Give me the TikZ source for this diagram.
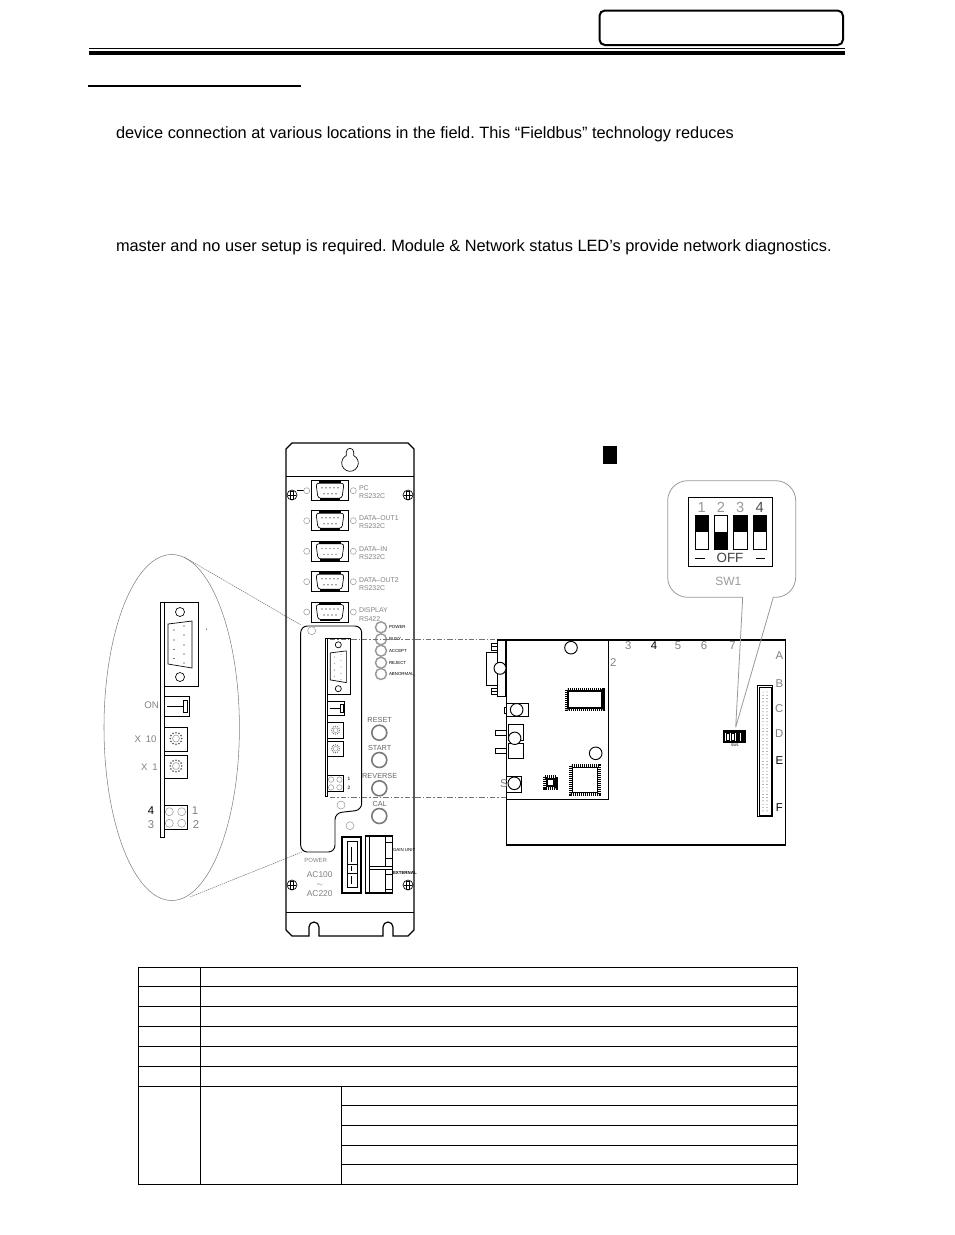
\documentclass[tikz,border=0pt]{standalone}
\usepackage{fontspec}
\setmainfont{Liberation Sans}
\usepackage{tikz}
\usetikzlibrary{positioning}
\usetikzlibrary{calc}
\definecolor{faint}{gray}{0.5}
\definecolor{ringgray}{gray}{0.6}
\frenchspacing

% one copy of the side panel, used for the enlarged view and on the controller
\newcommand{\sidepanel}{
    \draw[heavy, fill=white] (160.3,602) rectangle (164,837);
    \draw[heavy] (164,602) rectangle (198,686);
    \draw[thin line] (180,612) circle (4.5) (180,677) circle (4.5);
    \draw[thin line] (168,624) -- (192,621) -- (192,668) -- (168,664) -- cycle;
    \foreach \yy in {630,640,649.5,658.5} \fill (174,\yy) circle (.6);
    \foreach \yy in {626,635,645,654,663} \fill (184,\yy) circle (.6);
    \draw[heavy] (164,696) rectangle (189,716);
    \draw[heavy] (183,700) rectangle (187,712);
    \draw[thin line] (167,706) -- (183,706);
    \draw[heavy] (164,727) rectangle (187,751);
    \draw[heavy] (164,755) rectangle (187,778);
    \foreach \cy in {738.5,766} {
        \draw[ringline] (176,\cy) circle (3.5);
        \foreach \ang in {0,30,...,330} \fill[black!65] ($(176,\cy)+(\ang:5.8)$) circle (.9);
    }
    \draw[heavy] (164,805) rectangle (187,829);
    \foreach \cx in {169.3,181.7} \foreach \cy in {811.7,823.3}
        \draw[ringline] (\cx,\cy) circle (4);
}
\newcommand{\rsport}[1]{
    \begin{scope}[shift={(330,#1)}]
        \draw[heavy] (-18.3,-10) rectangle (18.3,10);
        \draw[thin line, rounded corners=2pt] (-14,-7.5) -- (14,-7.5) -- (12,7.5) -- (-12,7.5) -- cycle;
        \draw[line width=1.4pt] (-11,-8.5) -- (11,-8.5) (-10,8.5) -- (10,8.5);
        \foreach \xx in {-8,-4,...,8} \fill[faint] (\xx,-3) circle (.8);
        \foreach \xx in {-6,-2,...,6} \fill[faint] (\xx,3) circle (.8);
        \draw[ringline] (-23.3,0) circle (3) (23.3,0) circle (3);
    \end{scope}
}
\newcommand{\panelscrew}[1]{
    \begin{scope}[shift={#1}]
        \draw[thin line] (0,0) circle (5);
        \draw[thin line, fill=white] (-1.5,-4) rectangle (1.5,4);
        \draw[thin line] (-4,0) -- (4,0);
    \end{scope}
}

\begin{document}
\begin{tikzpicture}
[   x=.75pt,
    y=-.75pt,
    inner sep=0pt,
    outer sep=0pt,
    heavy/.style={line width=.7pt},
    thin line/.style={line width=.5pt},
    ringline/.style={line width=.4pt, draw=ringgray},
    panelline/.style={line width=.9pt},
    tableline/.style={line width=.5pt},
    dashline/.style={line width=.4pt, draw=black!55, dash pattern=on 4pt off 1.5pt on 1pt off 1.5pt},
    bodytext/.style={font=\fontsize{12.26}{14}\selectfont, anchor=base west},
    smalltext/.style={font=\fontsize{5.2}{6}\selectfont, text=faint},
    acfont/.style={font=\fontsize{6.3}{7}\selectfont, text=faint},
    insettext/.style={font=\fontsize{7.2}{9}\selectfont, text=faint},
    buttontext/.style={font=\fontsize{5.5}{6}\selectfont, text=black!60},
    tinytext/.style={font=\fontsize{3.3}{4}\selectfont, anchor=west},
    numtext/.style={font=\fontsize{8.5}{10}\selectfont, text=faint},
    blacknum/.style={font=\fontsize{8.5}{10}\selectfont},
    digittext/.style={font=\fontsize{11}{12}\selectfont, text=ringgray},
    pinrow/.style={line width=2.4pt, dash pattern=on 1.1pt off .4pt}
]
\useasboundingbox (0,0) rectangle (954,1235);

% page header
\draw[line width=1.5pt, rounded corners=4pt] (599.5,10.5) rectangle (843,45);
\draw[line width=.9pt] (89,48.5) -- (845,48.5);
\draw[line width=2.9pt] (89,53) -- (845,53);
\draw[line width=1.4pt] (88,86) -- (301,86);
\node[bodytext] (lineone) at (116,138) {device connection at various locations in the field. This “Fieldbus” technology reduces};
\node[bodytext] (linetwo) at (116,251) {master and no user setup is required. Module \& Network status LED’s provide network diagnostics.};

% enlarged view
\draw[draw=faint, line width=.4pt] (171.7,727.5) ellipse (67.7 and 173);
\sidepanel
\fill (206.5,629) circle (.5);
\node[insettext] (onlabel) at (151.5,705) {ON};
\node[insettext] (xten) at (145.5,739) {X\,\,\,10};
\node[insettext] (xone) at (149.5,767) {X\,\,\,1};
\node[blacknum] (ledfour) at (151,811) {4};
\node[numtext] (ledthree) at (151,825) {3};
\node[numtext] (ledone) at (195,811) {1};
\node[numtext] (ledtwo) at (196,825) {2};
\draw[dashline, dash pattern=on 1pt off .6pt] (184,557) -- (301,625);
\draw[dashline, dash pattern=on 1pt off .6pt] (190,897) -- (302,852);

% controller front panel
\draw[panelline] (292,443) -- (408,443) -- (414,449) -- (414,930) -- (408,936) -- (393,936) -- (393,927)
    arc (0:-180:5) -- (383,936) -- (319,936) -- (319,927) arc (0:-180:5) -- (309,936) -- (292,936)
    -- (286,930) -- (286,449) -- cycle;
\draw[heavy] (286,476) -- (414,476) (286,912) -- (414,912);
\draw[thin line] (346.3,452) arc (180:360:3.7) -- (353.77,455.6) arc (-63:243:8.3) -- cycle;
\panelscrew{(292,495)}
\panelscrew{(408,495)}
\panelscrew{(292,885)}
\panelscrew{(408,885)}
\draw[thin line] (297,490) -- (304,490);
\rsport{490.7}
\rsport{520.7}
\rsport{551.3}
\rsport{581.7}
\rsport{612}
\node[smalltext, anchor=west] (pclabel) at (359,488) {PC};
\node[smalltext, anchor=west] (pcbus) at (359,496) {RS232C};
\node[smalltext, anchor=west] (outonelabel) at (359,518) {DATA--OUT1};
\node[smalltext, anchor=west] (outonebus) at (359,526) {RS232C};
\node[smalltext, anchor=west] (inlabel) at (359,549) {DATA--IN};
\node[smalltext, anchor=west] (inbus) at (359,557) {RS232C};
\node[smalltext, anchor=west] (outtwolabel) at (359,580) {DATA--OUT2};
\node[smalltext, anchor=west] (outtwobus) at (359,588) {RS232C};
\node[smalltext, anchor=west] (displabel) at (359,610) {DISPLAY};
\node[smalltext, anchor=west] (dispbus) at (359,619) {RS422};

% cut-out for the option card
\draw[heavy, rounded corners=5pt] (300.7,852) -- (300.7,626) -- (361.7,626) -- (361.7,810) -- (335,813) -- (335,852) -- cycle;
\draw[ringline] (311.7,630.7) circle (4) (341,805) circle (4) (350,825.7) circle (4);
\begin{scope}[shift={(216.8,231.7)},scale=.675]
    \sidepanel
\end{scope}
\node[font=\fontsize{3.6}{4}\selectfont] (smallone) at (349,779) {1};
\node[font=\fontsize{3.6}{4}\selectfont] (smalltwo) at (349,788) {2};

% status lamps and buttons
\foreach \cy/\txt [count=\i] in {627.3/POWER,639.3/BUSY,650.7/ACCEPT,662.7/REJECT,674/ABNORMAL} {
    \draw[draw=ringgray, line width=1.1pt] (381,\cy) circle (5.5);
    \node[tinytext] (lamp\i) at (389,\cy) {\txt};
}
\foreach \cy/\ty/\txt [count=\i] in {732.7/720/RESET,760/748.3/START,788.3/776/REVERSE,816/804/CAL} {
    \draw[draw=ringgray!80!black, line width=1.2pt] (379.3,\cy) circle (7.5);
    \node[buttontext] (button\i) at (379.7,\ty) {\txt};
}
\node[smalltext, font=\fontsize{4.5}{5}\selectfont] (powerlabel) at (315.7,860) {POWER};
\node[acfont] (actop) at (319.7,875) {AC100};
\node[acfont, font=\fontsize{5}{5}\selectfont] (actilde) at (319.7,885) {$\sim$};
\node[acfont] (acbot) at (319.7,894) {AC220};

% power and output connectors
\draw[line width=1.4pt] (341.7,836.7) rectangle (361,892.7);
\draw[heavy] (347.5,841) rectangle (357,887);
\draw[heavy] (347.5,864) -- (357,864) (347.5,873) -- (357,873);
\draw[line width=1.1pt] (351.5,847) -- (351.5,862) (351.5,866) -- (351.5,871) (351.5,876) -- (351.5,884);
\draw[line width=1.2pt] (365.3,836) rectangle (392.3,893);
\draw[heavy] (369.5,836) -- (369.5,893) (369.5,866) -- (392.3,866) (369.5,869) -- (392.3,869);
\draw[heavy] (385,836) -- (385,866) (385,869) -- (385,893);
\draw[heavy] (385,842) -- (392.3,842) (385,858) -- (392.3,858) (385,874) -- (392.3,874) (385,889) -- (392.3,889);
\node[tinytext, font=\fontsize{3.3}{4}\selectfont] (gainlabel) at (393,850) {GAIN UNIT};
\node[tinytext, font=\fontsize{3.3}{4}\selectfont\bfseries] (extlabel) at (393,873) {EXTERNAL};

% dashed guide lines to the card
\draw[dashline] (330,639) -- (497,639);
\draw[dashline] (330,797) -- (506,797);

% main board
\draw[panelline] (506.7,640) rectangle (785.7,845);
\draw[heavy] (608.3,640) -- (608.3,799.3) -- (506.7,799.3);
\foreach \cx/\cy in {571/647.7,595.7/753.3} \draw[heavy] (\cx,\cy) circle (6.3);
% left edge parts
\draw[line width=1.1pt] (497.3,640) rectangle (506,696.7);
\draw[heavy] (486,652.7) rectangle (497.3,685);
\draw[heavy] (491,643.3) rectangle (497.3,650) (491,688.3) rectangle (497.3,694);
\draw[heavy] (491,646.5) -- (497.3,646.5) (491,691) -- (497.3,691);
\draw[heavy, fill=white] (500,668.3) circle (6);
\draw[heavy] (506.7,703.3) rectangle (528.3,716.7);
\draw[heavy] (504.5,707) rectangle (506.7,713);
\draw[heavy, fill=white] (516.7,709.8) circle (6.3);
\draw[heavy] (508.3,724.3) rectangle (523.3,740.7) (508.3,743.3) rectangle (523.3,758.3);
\draw[heavy] (495,730) rectangle (506.7,735) (495,748.3) rectangle (506.7,753.3);
\draw[heavy, fill=white] (514.7,738.3) circle (6.2);
\draw[heavy] (506.7,776) rectangle (521.7,792.7);
\draw[heavy, fill=white] (514.3,783.3) circle (6.3);
\node[numtext] (eightlabel) at (504,784) {S};
% chips
\draw[pinrow] (567,689.5) rectangle (603,709.5);
\draw[line width=1.3pt, fill=white] (568,691) rectangle (602,708);
\draw[pinrow] (571,766) rectangle (599,794);
\draw[line width=1.4pt, fill=white] (572.5,767.5) rectangle (597.5,792.5);
\draw[pinrow] (545,777) rectangle (556.3,788.3);
\draw[line width=1.3pt, fill=white] (547,779) rectangle (554.3,786.3);
% ribbon connector
\draw[heavy] (757.3,685.7) rectangle (772.7,816.7);
\draw[thin line] (759,687.5) rectangle (771,815);
\foreach \rw in {0,1,...,36} {
    \fill (763,692+3.3*\rw) circle (.45);
    \fill (767,692+3.3*\rw) circle (.45);
}
% dip switch on the board
\draw[line width=1.6pt] (724,731.5) rectangle (745,742);
\foreach \cx in {726.5,731.5,736.5,741.5} \draw[thin line] (\cx,733.5) rectangle (\cx+3,740);
\fill (736.5,733.5) rectangle (739.5,740);
\fill (741.5,733.5) rectangle (744.5,740);
\node[font=\fontsize{2.8}{3}\selectfont] (swtiny) at (735,745.5) {SW1};
% edge labels
\foreach \cx/\txt [count=\i] in {628.3/3,678/5,704/6,732.5/7} \node[numtext] (col\i) at (\cx,645.7) {\txt};
\node[blacknum] (colfour) at (654,645.7) {4};
\node[numtext] (coltwo) at (613.3,662.7) {2};
\foreach \cy/\txt [count=\i] in {656/A,684/B,709/C,734/D} \node[numtext] (row\i) at (779.3,\cy) {\txt};
\node[blacknum] (rowfive) at (779.3,760.7) {E};
\node[blacknum] (rowsix) at (779.3,808) {F};

% callout with the switch settings
\fill (603.3,446) rectangle (616.7,464);
\draw[draw=ringgray, line width=.6pt] (735.7,727.3) -- (742.7,597.3) [rounded corners=15pt] -- (667.7,597.3) -- (667.7,480.7)
    -- (795.7,480.7) -- (795.7,597.3) [sharp corners] -- (773.3,597.3) -- (735.7,727.3);
\draw[heavy] (688.3,497.3) rectangle (772.7,566.7);
\foreach \cx/\topblack in {695/1,714.3/0,733.7/1,753/1} {
    \draw[heavy] (\cx,515) rectangle (\cx+13.3,549.3);
    \ifnum\topblack=1
        \fill (\cx,515) rectangle (\cx+13.3,532);
    \else
        \fill (\cx,532) rectangle (\cx+13.3,549.3);
    \fi
}
\node[digittext] (swone) at (701.7,507.5) {1};
\node[digittext] (swtwo) at (721,507.5) {2};
\node[digittext] (swthree) at (740.3,507.5) {3};
\node[digittext, text=black!70] (swfour) at (759.7,507.5) {4};
\node[digittext, font=\fontsize{10}{12}\selectfont, text=black!75] (offlabel) at (730,558.3) {OFF};
\draw[thin line] (695,558.3) -- (705,558.3) (755.7,558.3) -- (765,558.3);
\node[digittext, font=\fontsize{9}{12}\selectfont] (swname) at (728.3,581.7) {SW1};

% table
\draw[tableline] (138,967) rectangle (797,1184);
\foreach \yy in {986,1006,1026,1046,1066,1086} \draw[tableline] (138,\yy) -- (797,\yy);
\foreach \yy in {1105,1125,1145,1164} \draw[tableline] (341,\yy) -- (797,\yy);
\draw[tableline] (200,967) -- (200,1184);
\draw[tableline] (341,1086) -- (341,1184);
\end{tikzpicture}
\end{document}
